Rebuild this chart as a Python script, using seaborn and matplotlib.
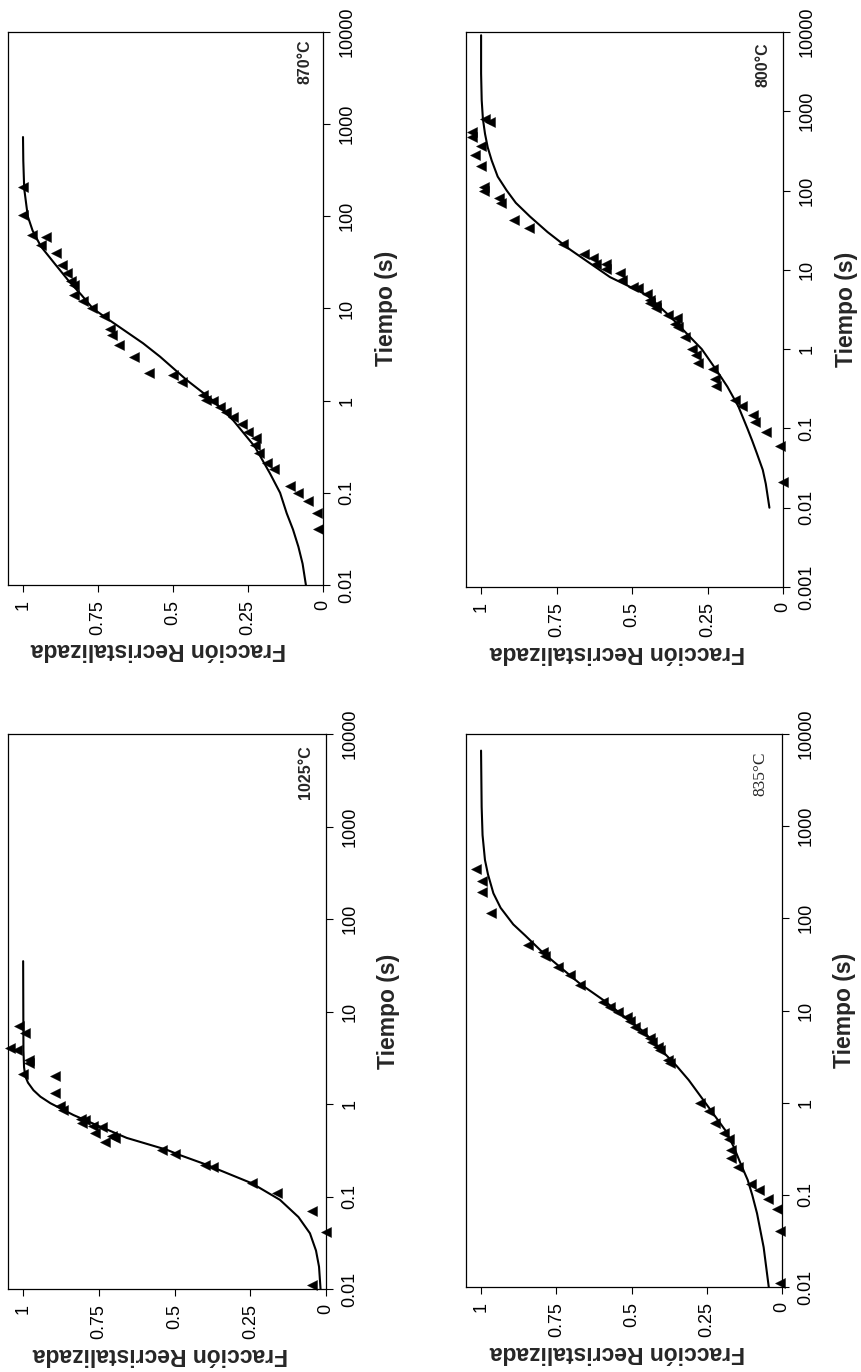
import matplotlib
matplotlib.use('Agg')
import matplotlib.pyplot as plt
import seaborn as sns
from matplotlib.ticker import FixedLocator, NullLocator

sns.set_style('ticks')
plt.rcParams['font.family'] = ['Liberation Sans', 'DejaVu Sans']

# ---------------- data ----------------
# 870 °C
t870_pts = [0.041, 0.061, 0.081, 0.10, 0.12, 0.18, 0.21, 0.27, 0.33, 0.39, 0.46, 0.56, 0.67, 0.76,
            0.86, 0.98, 1.02, 1.15, 1.6, 1.9, 2.0, 3.0, 4.0, 5.1, 6.0, 8.2, 10, 12, 14, 18, 20, 24,
            30, 40, 49, 59, 63, 103, 209]
f870_pts = [0.016, 0.019, 0.049, 0.082, 0.11, 0.163, 0.186, 0.212, 0.227, 0.223, 0.249, 0.271, 0.30, 0.325,
            0.343, 0.366, 0.39, 0.40, 0.47, 0.50, 0.58, 0.63, 0.68, 0.705, 0.71, 0.73, 0.77, 0.80, 0.83, 0.83,
            0.84, 0.855, 0.87, 0.89, 0.94, 0.923, 0.97, 1.00, 1.00]
t870_fit = [0.01, 0.017, 0.026, 0.04, 0.06, 0.1, 0.163, 0.316, 0.61, 1.0, 1.67, 3.0, 4.2, 7.4, 10,
            14, 20, 30, 47, 70, 100, 200, 400, 725]
f870_fit = [0.057, 0.068, 0.082, 0.10, 0.121, 0.143, 0.177, 0.227, 0.299, 0.366, 0.454, 0.543, 0.60,
            0.71, 0.767, 0.805, 0.848, 0.892, 0.94, 0.968, 0.984, 0.996, 0.999, 1.0]

# 800 °C
t800_pts = [0.021, 0.060, 0.091, 0.122, 0.148, 0.19, 0.23, 0.34, 0.42, 0.56, 0.66, 0.85, 1.0, 1.44,
            1.9, 2.1, 2.5, 2.7, 3.3, 3.6, 3.8, 4.2, 5.0, 5.9, 6.1, 7.4, 9.1, 10.2, 12, 12, 14, 16, 21,
            34, 43, 69, 80, 100, 110, 205, 280, 360, 480, 550, 740, 810]
f800_pts = [0.001, 0.01, 0.056, 0.093, 0.098, 0.137, 0.159, 0.222, 0.225, 0.231, 0.28, 0.288, 0.302,
            0.325, 0.347, 0.358, 0.35, 0.38, 0.42, 0.42, 0.44, 0.44, 0.45, 0.48, 0.496, 0.534, 0.54,
            0.585, 0.585, 0.62, 0.63, 0.66, 0.73, 0.84, 0.89, 0.935, 0.94, 0.99, 0.99, 1.00, 1.02,
            1.00, 1.03, 1.03, 0.97, 0.987]
t800_fit = [0.01, 0.02, 0.03, 0.049, 0.07, 0.1, 0.19, 0.335, 0.54, 1.0, 1.74, 2.5, 4.8, 8.1, 18, 30,
            47, 70, 100, 150, 240, 350, 520, 800, 1380, 3000, 9100]
f800_fit = [0.045, 0.057, 0.067, 0.087, 0.102, 0.118, 0.148, 0.184, 0.22, 0.269, 0.33, 0.37, 0.45,
            0.573, 0.705, 0.78, 0.838, 0.885, 0.915, 0.945, 0.965, 0.978, 0.987, 0.994, 0.998, 1.0, 1.0]

# 1025 °C
t1025_pts = [0.011, 0.041, 0.069, 0.108, 0.14, 0.21, 0.22, 0.29, 0.32, 0.39, 0.43, 0.45, 0.49, 0.56,
             0.58, 0.62, 0.67, 0.68, 0.86, 0.95, 1.33, 2.0, 2.1, 2.75, 3.0, 3.8, 4.0, 5.8, 6.9]
f1025_pts = [0.047, 0.0, 0.047, 0.163, 0.245, 0.372, 0.40, 0.498, 0.542, 0.73, 0.696, 0.707, 0.762,
             0.74, 0.768, 0.806, 0.795, 0.81, 0.867, 0.878, 0.894, 0.894, 1.0, 0.98, 0.98, 1.02,
             1.043, 0.993, 1.015]
t1025_fit = [0.01, 0.0174, 0.026, 0.040, 0.060, 0.092, 0.139, 0.224, 0.28, 0.32, 0.43, 0.57, 0.76,
             1.02, 1.2, 1.41, 1.7, 2.0, 2.5, 3.8, 35]
f1025_fit = [0.018, 0.023, 0.033, 0.053, 0.091, 0.152, 0.245, 0.40, 0.482, 0.526, 0.658, 0.746,
             0.834, 0.91, 0.943, 0.966, 0.984, 0.993, 0.997, 0.999, 1.0]

# 835 °C
t835_pts = [0.011, 0.041, 0.071, 0.091, 0.113, 0.13, 0.20, 0.25, 0.31, 0.40, 0.47, 0.60, 0.82, 1.0,
            2.7, 2.9, 3.7, 4.0, 4.6, 5.0, 5.8, 6.6, 7.7, 8.5, 9.7, 10.9, 12.3, 19, 24, 30, 39, 43,
            51, 113, 195, 257, 347]
f835_pts = [0.005, 0.005, 0.018, 0.047, 0.075, 0.102, 0.147, 0.171, 0.171, 0.177, 0.194, 0.221,
            0.244, 0.271, 0.372, 0.378, 0.405, 0.411, 0.433, 0.439, 0.466, 0.488, 0.505, 0.516,
            0.544, 0.571, 0.594, 0.671, 0.704, 0.743, 0.787, 0.793, 0.843, 0.968, 0.996, 0.998, 1.017]
t835_fit = [0.01, 0.027, 0.063, 0.1, 0.145, 0.22, 0.33, 0.50, 1.0, 1.76, 2.5, 5.9, 13, 19.5, 42,
            65, 86, 130, 187, 300, 430, 800, 1620, 6600]
f835_fit = [0.044, 0.061, 0.083, 0.099, 0.114, 0.138, 0.16, 0.188, 0.255, 0.31, 0.35, 0.46, 0.594,
            0.671, 0.793, 0.853, 0.893, 0.935, 0.959, 0.977, 0.987, 0.995, 0.998, 1.0]

frac_ticks = [0, 0.25, 0.5, 0.75, 1]
frac_labels = ['0', '0.25', '0.5', '0.75', '1']
time_ticks_a = [0.01, 0.1, 1, 10, 100, 1000, 10000]
time_labels_a = ['0.01', '0.1', '1', '10', '100', '1000', '10000']
time_ticks_b = [0.001, 0.01, 0.1, 1, 10, 100, 1000, 10000]
time_labels_b = ['0.001', '0.01', '0.1', '1', '10', '100', '1000', '10000']

x_label = 'Fracción Recristalizada'
y_label = 'Tiempo (s)'
temps = ['870°C', '800°C', '1025°C', '835°C']

# ---------------- figure ----------------
W, H = 861, 1372
fig = plt.figure(figsize=(W / 100, H / 100), dpi=100)
fig.patch.set_facecolor('white')

panels = [
    dict(box=(8, 323, 32, 585), tp=t870_pts, fp=f870_pts, tf=t870_fit, ff=f870_fit,
         yt=time_ticks_a, yl=time_labels_a, temp=temps[0], tpos=(0.943, 0.946), serif=False),
    dict(box=(466, 783, 32, 587), tp=t800_pts, fp=f800_pts, tf=t800_fit, ff=f800_fit,
         yt=time_ticks_b, yl=time_labels_b, temp=temps[1], tpos=(0.937, 0.942), serif=False),
    dict(box=(8, 326, 734, 1289), tp=t1025_pts, fp=f1025_pts, tf=t1025_fit, ff=f1025_fit,
         yt=time_ticks_a, yl=time_labels_a, temp=temps[2], tpos=(0.934, 0.932), serif=False),
    dict(box=(466, 782, 734, 1287), tp=t835_pts, fp=f835_pts, tf=t835_fit, ff=f835_fit,
         yt=time_ticks_a, yl=time_labels_a, temp=temps[3], tpos=(0.930, 0.929), serif=True),
]

for p in panels:
    l, r, t, b = p['box']
    wpx, hpx = r - l, b - t
    ax = fig.add_axes([l / W, 1 - b / H, wpx / W, hpx / H])
    ax.set_facecolor('white')

    sns.lineplot(x=p['ff'], y=p['tf'], sort=False, estimator=None, color='black',
                 linewidth=1.5, ax=ax)
    sns.scatterplot(x=p['fp'], y=p['tp'], marker='<', s=52, color='black',
                    edgecolor='black', linewidth=0.3, ax=ax, clip_on=False, zorder=3)

    ax.set_yscale('log')
    ax.set_ylim(p['yt'][0], p['yt'][-1])
    ax.set_xlim(1.05, 0)

    ax.yaxis.tick_right()
    ax.yaxis.set_major_locator(FixedLocator(p['yt']))
    ax.yaxis.set_minor_locator(NullLocator())
    ax.set_yticklabels(p['yl'], rotation=90, va='center')
    ax.set_xticks(frac_ticks)
    ax.set_xticklabels(frac_labels, rotation=90)
    ax.tick_params(axis='both', direction='out', length=5, width=0.8, labelsize=13,
                   color='black', labelcolor='black', pad=6)

    for s in ax.spines.values():
        s.set_visible(True)
        s.set_color('black')
        s.set_linewidth(0.9)

    ax.yaxis.set_label_position('right')
    ax.set_ylabel(y_label, fontsize=16.5, fontweight='bold', rotation=90,
                  va='center', ha='center')
    ax.yaxis.set_label_coords(1 + 63 / wpx, 0.5)
    ax.set_xlabel(x_label, fontsize=16.5, fontweight='bold', rotation=180,
                  va='center', ha='center')
    ax.xaxis.set_label_coords(0.478, -65 / hpx)

    if p['serif']:
        ax.text(p['tpos'][0], p['tpos'][1], p['temp'], transform=ax.transAxes, rotation=90,
                ha='center', va='center', fontsize=12.5, family=['Liberation Serif', 'DejaVu Serif'])
    else:
        ax.text(p['tpos'][0], p['tpos'][1], p['temp'], transform=ax.transAxes, rotation=90,
                ha='center', va='center', fontsize=11.5, fontweight='bold')
    ax.grid(False)

fig.savefig('out.png', dpi=100, facecolor='white')
